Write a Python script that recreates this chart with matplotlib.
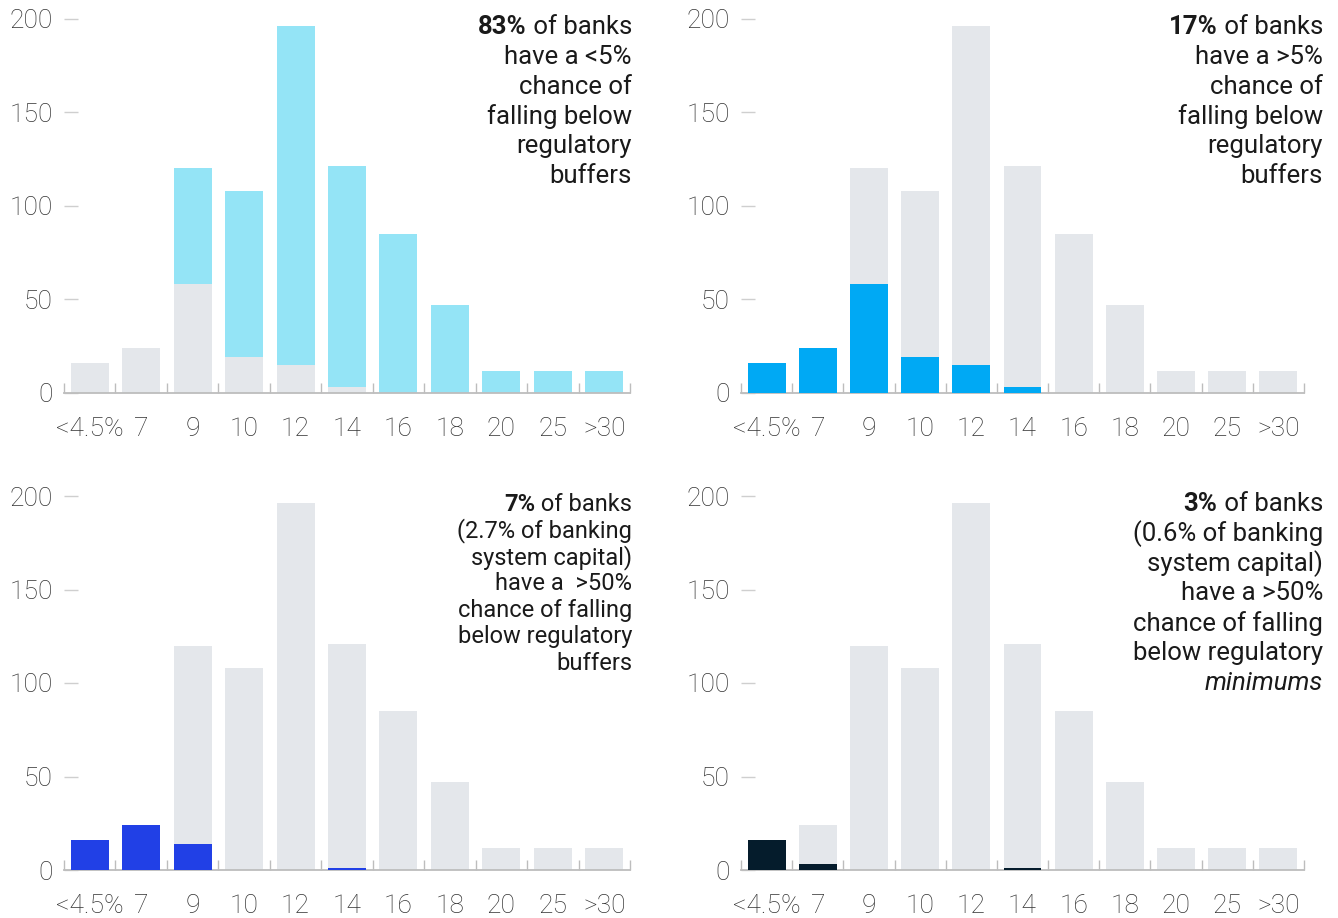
import numpy as np
import matplotlib
matplotlib.use('Agg')
import matplotlib.pyplot as plt

plt.rcParams['font.family'] = ['Roboto', 'DejaVu Sans']

categories = ['<4.5%', '7', '9', '10', '12', '14', '16', '18', '20', '25', '>30']
total = [16, 24, 120, 108, 196, 121, 85, 47, 12, 12, 12]
above5_buffers = [16, 24, 58, 19, 15, 3, 0, 0, 0, 0, 0]
above50_buffers = [16, 24, 14, 0, 0, 1, 0, 0, 0, 0, 0]
above50_minimums = [16, 3, 0, 0, 0, 1, 0, 0, 0, 0, 0]

grey = '#e4e7eb'
light_blue = '#94e4f6'
blue = '#00a9f4'
royal = '#2140e6'
navy = '#051c2c'

W, H = 1338, 918
fig = plt.figure(figsize=(W / 100, H / 100), dpi=100)


def make_ax(left_px, top_px, zero_px, right_px):
    ax = fig.add_axes([left_px / W, 1 - zero_px / H,
                       (right_px - left_px) / W, (zero_px - top_px) / H])
    x = np.arange(len(categories))
    ax.set_xlim(-0.5, len(categories) - 0.5)
    ax.set_ylim(0, 200)
    for s in ['top', 'right', 'left']:
        ax.spines[s].set_visible(False)
    ax.spines['bottom'].set_color('#bdbdbd')
    ax.spines['bottom'].set_linewidth(1.3)
    ax.set_yticks([0, 50, 100, 150, 200])
    ax.tick_params(axis='y', direction='in', length=10, width=1, color='#cfcfcf',
                   labelcolor='#333333', labelsize=19, pad=8)
    ax.set_xticks(x)
    ax.set_xticklabels(categories)
    ax.tick_params(axis='x', which='major', length=0, labelcolor='#333333',
                   labelsize=19, pad=17)
    ax.set_xticks(np.arange(len(categories) + 1) - 0.5, minor=True)
    ax.tick_params(axis='x', which='minor', direction='in', length=7, width=1,
                   color='#bdbdbd')
    for lab in ax.get_xticklabels() + ax.get_yticklabels():
        lab.set_fontweight('light')
    return ax, x


bw = 0.74
# top-left
ax, x = make_ax(64, 18.5, 393, 630)
rest = [t - a for t, a in zip(total, above5_buffers)]
ax.bar(x, above5_buffers, bw, color=grey, zorder=2)
ax.bar(x, rest, bw, bottom=above5_buffers, color=light_blue, zorder=2)

# top-right
ax, x = make_ax(741, 18.5, 393, 1304)
ax.bar(x, total, bw, color=grey, zorder=2)
ax.bar(x, above5_buffers, bw, color=blue, zorder=3)

# bottom-left
ax, x = make_ax(64, 496, 870, 630)
ax.bar(x, total, bw, color=grey, zorder=2)
ax.bar(x, above50_buffers, bw, color=royal, zorder=3)

# bottom-right
ax, x = make_ax(741, 496, 870, 1304)
ax.bar(x, total, bw, color=grey, zorder=2)
ax.bar(x, above50_minimums, bw, color=navy, zorder=3)

fig.canvas.draw()
renderer = fig.canvas.get_renderer()


def line(x_px, y_px, parts, size):
    # parts drawn right to left, each (text, weight, style)
    xr = x_px
    for txt, weight, style in reversed(parts):
        t = fig.text(xr / W, 1 - y_px / H, txt, ha='right', va='center',
                     fontsize=size, fontweight=weight, fontstyle=style,
                     color='#1a1a1a')
        bb = t.get_window_extent(renderer)
        xr -= bb.width


def block(x_px, y0, dy, lines, size):
    for i, parts in enumerate(lines):
        line(x_px, y0 + i * dy, parts, size)


n = 'normal'
block(632, 27, 29.8, [
    [('83%', 'bold', n), (' of banks', n, n)],
    [('have a <5%', n, n)],
    [('chance of', n, n)],
    [('falling below', n, n)],
    [('regulatory', n, n)],
    [('buffers', n, n)],
], 18.5)

block(1323, 27, 29.8, [
    [('17%', 'bold', n), (' of banks', n, n)],
    [('have a >5%', n, n)],
    [('chance of', n, n)],
    [('falling below', n, n)],
    [('regulatory', n, n)],
    [('buffers', n, n)],
], 18.5)

block(632, 504, 26.6, [
    [('7%', 'bold', n), (' of banks', n, n)],
    [('(2.7% of banking', n, n)],
    [('system capital)', n, n)],
    [('have a  >50%', n, n)],
    [('chance of falling', n, n)],
    [('below regulatory', n, n)],
    [('buffers', n, n)],
], 17)

block(1323, 504, 29.8, [
    [('3%', 'bold', n), (' of banks', n, n)],
    [('(0.6% of banking', n, n)],
    [('system capital)', n, n)],
    [('have a >50%', n, n)],
    [('chance of falling', n, n)],
    [('below regulatory', n, n)],
    [('minimums', n, 'italic')],
], 18.5)

fig.savefig('out.png', dpi=100)
